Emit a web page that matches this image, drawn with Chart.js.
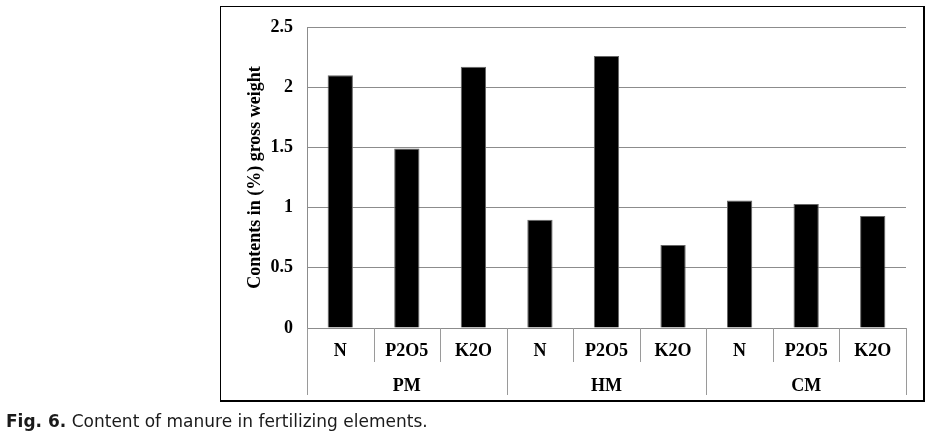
<!DOCTYPE html>
<html>
<head>
<meta charset="utf-8">
<script src="https://cdn.jsdelivr.net/npm/chart.js@4.4.1/dist/chart.umd.min.js"></script>
<style>
    html, body { margin: 0; padding: 0; background: #fff; }
    #wrap { position: relative; width: 938px; height: 448px; }
    #frame {
        position: absolute; left: 220px; top: 6px; width: 702px; height: 393px;
        border-left: 1px solid #000; border-top: 1px solid #000;
        border-right: 2px solid #000; border-bottom: 2px solid #000;
        pointer-events: none;
    }
    #caption {
        position: absolute; left: 6px; top: 411px;
        font-family: "DejaVu Sans", Verdana, sans-serif; font-size: 17px; color: #1a1a1a;
        white-space: nowrap;
    }
</style>
</head>
<body>
<div id="wrap">
    <canvas id="manureChart" width="938" height="448"></canvas>
    <div id="frame"></div>
    <div id="caption"><b>Fig. 6.</b> Content of manure in fertilizing elements.</div>
</div>
<script>
// Data
const elements = ['N', 'P2O5', 'K2O', 'N', 'P2O5', 'K2O', 'N', 'P2O5', 'K2O'];
const groups = ['PM', 'HM', 'CM'];
const contents = [2.10, 1.49, 2.17, 0.90, 2.26, 0.69, 1.06, 1.03, 0.93];
const yTicks = [0, 0.5, 1, 1.5, 2, 2.5];

const labelFont = { family: '"Liberation Serif", "Times New Roman", serif', size: 18, weight: 'bold' };

// Draws the category separators and the group row under the x axis
const groupAxisPlugin = {
    id: 'groupAxis',
    afterDraw(chart) {
        const ctx = chart.ctx;
        const x = chart.scales.x;
        const area = chart.chartArea;
        const top = area.bottom;
        const per = elements.length / groups.length;
        ctx.save();
        ctx.strokeStyle = '#9a9a9a';
        ctx.lineWidth = 1;
        for (let i = 0; i <= elements.length; i++) {
            let px;
            if (i === 0) px = area.left;
            else if (i === elements.length) px = area.right;
            else px = (x.getPixelForValue(i - 1) + x.getPixelForValue(i)) / 2;
            const len = (i % per === 0) ? 67 : 34;
            ctx.beginPath();
            ctx.moveTo(Math.round(px) + 0.5, top);
            ctx.lineTo(Math.round(px) + 0.5, top + len);
            ctx.stroke();
        }
        ctx.fillStyle = '#000';
        ctx.font = 'bold 18px "Liberation Serif", "Times New Roman", serif';
        ctx.textAlign = 'center';
        ctx.textBaseline = 'middle';
        groups.forEach((g, gi) => {
            const first = x.getPixelForValue(gi * per);
            const last = x.getPixelForValue(gi * per + per - 1);
            ctx.fillText(g, (first + last) / 2, top + 58);
        });
        ctx.restore();
    }
};

const ctx = document.getElementById('manureChart').getContext('2d');
new Chart(ctx, {
    type: 'bar',
    data: {
        labels: elements,
        datasets: [{
            data: contents,
            backgroundColor: '#000',
            borderColor: '#666',
            borderWidth: 1,
            categoryPercentage: 1,
            barPercentage: 0.38
        }]
    },
    options: {
        responsive: false,
        animation: false,
        layout: { padding: { left: 228, top: 27, right: 32, bottom: 52 } },
        plugins: { legend: { display: false }, tooltip: { enabled: false } },
        scales: {
            x: {
                grid: { display: false, drawTicks: false },
                border: { display: false },
                ticks: { color: '#000', font: labelFont, padding: 13, maxRotation: 0, autoSkip: false },
                afterFit(scale) { scale.height = 68; }
            },
            y: {
                min: 0,
                max: 2.5,
                afterBuildTicks(scale) { scale.ticks = yTicks.map(v => ({ value: v })); },
                grid: { color: '#8c8c8c', drawTicks: false },
                border: { display: true, color: '#8c8c8c' },
                ticks: { color: '#000', font: labelFont, padding: 14, callback: v => String(v) },
                title: {
                    display: true,
                    text: 'Contents in (%) gross weight',
                    color: '#000',
                    font: labelFont,
                    padding: { top: 17, bottom: 0 }
                },
                afterFit(scale) { scale.width = 79; }
            }
        }
    },
    plugins: [groupAxisPlugin]
});
</script>
</body>
</html>
